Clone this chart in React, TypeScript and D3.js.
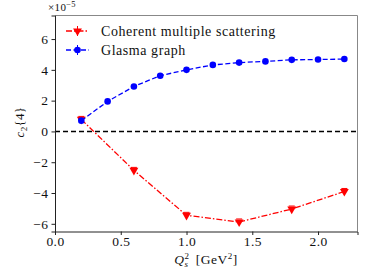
import { useEffect, useRef } from "react";
import * as d3 from "d3";

const W = 374;
const H = 280;
const MARGIN = { top: 15.5, right: 16.5, bottom: 48.5, left: 55 };

// Q_s^2 values [GeV^2]
const glasmaX = [0.2, 0.4, 0.6, 0.8, 1.0, 1.2, 1.4, 1.6, 1.8, 2.0, 2.2];
const glasmaY = [0.7, 1.95, 2.92, 3.62, 4.0, 4.32, 4.47, 4.55, 4.65, 4.67, 4.7];
const cmsX = [0.2, 0.6, 1.0, 1.4, 1.8, 2.2];
const cmsY = [0.78, -2.53, -5.45, -5.88, -5.04, -3.9];

const xTicks = [0.0, 0.5, 1.0, 1.5, 2.0];
const yTicks = [-6, -4, -2, 0, 2, 4, 6];

const FONT = "'Liberation Serif', 'Times New Roman', serif";
const RED = "#ff0000";
const BLUE = "#0000ff";

// place a run of [text, size, dy, italic, backstep] pieces one after another, centred on cx
function runText(
  parent: d3.Selection<any, unknown, null, undefined>,
  cx: number,
  base: number,
  pieces: Array<[string, number, number, boolean, number?]>,
  spacing = 0.3
) {
  const g = parent.append("g");
  let cur = 0;
  pieces.forEach(([t, size, dy, it, back]) => {
    if (back) cur -= back;
    const el = g
      .append("text")
      .attr("x", cur)
      .attr("y", dy)
      .attr("font-family", FONT)
      .attr("font-size", `${size}px`)
      .attr("font-style", it ? "italic" : "normal")
      .attr("letter-spacing", spacing)
      .attr("fill", "#111")
      .text(t);
    const node = el.node() as SVGTextElement;
    cur += node.getComputedTextLength();
  });
  g.attr("transform", `translate(${cx - cur / 2},${base})`);
  return g;
}

export default function App() {
  const svgRef = useRef<SVGSVGElement>(null);

  useEffect(() => {
    const svg = d3.select(svgRef.current);
    svg.selectAll("*").remove();

    const pw = W - MARGIN.left - MARGIN.right;
    const ph = H - MARGIN.top - MARGIN.bottom;

    const x = d3.scaleLinear().domain([0, 2.3]).range([0, pw]);
    const y = d3.scaleLinear().domain([-6.5, 7.53]).range([ph, 0]);

    const g = svg
      .append("g")
      .attr("transform", `translate(${MARGIN.left},${MARGIN.top})`);

    // zero reference line
    g.append("line")
      .attr("x1", 0)
      .attr("x2", pw)
      .attr("y1", y(0))
      .attr("y2", y(0))
      .attr("stroke", "#000")
      .attr("stroke-width", 1.5)
      .attr("stroke-dasharray", "5,3");

    const line = d3
      .line<[number, number]>()
      .x((d) => x(d[0]))
      .y((d) => y(d[1]));

    // Coherent multiple scattering (red, dash-dot, down triangles)
    const cms: [number, number][] = cmsX.map((v, i) => [v, cmsY[i]]);
    g.append("path")
      .attr("d", line(cms))
      .attr("fill", "none")
      .attr("stroke", RED)
      .attr("stroke-width", 1.3)
      .attr("stroke-dasharray", "6,2,1.5,2");
    const tri = d3.symbol().type(d3.symbolTriangle).size(34);
    cms.forEach((d) => {
      g.append("line")
        .attr("x1", x(d[0]) - 3)
        .attr("x2", x(d[0]) + 3)
        .attr("y1", y(d[1]) - 3)
        .attr("y2", y(d[1]) - 3)
        .attr("stroke", RED)
        .attr("stroke-width", 1);
      g.append("path")
        .attr("d", tri)
        .attr("transform", `translate(${x(d[0])},${y(d[1])}) rotate(180)`)
        .attr("fill", RED);
    });

    // Glasma graph (blue, dashed, circles)
    const gl: [number, number][] = glasmaX.map((v, i) => [v, glasmaY[i]]);
    g.append("path")
      .attr("d", line(gl))
      .attr("fill", "none")
      .attr("stroke", BLUE)
      .attr("stroke-width", 1.3)
      .attr("stroke-dasharray", "5,2.5");
    gl.forEach((d) => {
      g.append("circle")
        .attr("cx", x(d[0]))
        .attr("cy", y(d[1]))
        .attr("r", 3.3)
        .attr("fill", BLUE);
    });

    // spines
    g.append("line").attr("x1", 0).attr("x2", pw).attr("y1", 0).attr("y2", 0)
      .attr("stroke", "#888").attr("stroke-width", 1);
    g.append("line").attr("x1", pw).attr("x2", pw).attr("y1", 0).attr("y2", ph)
      .attr("stroke", "#888").attr("stroke-width", 1);

    const xAxis = g
      .append("g")
      .attr("transform", `translate(0,${ph})`)
      .call(d3.axisBottom(x).tickValues(xTicks).tickSize(3.5).tickPadding(1.5).tickFormat(d3.format(".1f")));
    const yAxis = g
      .append("g")
      .call(
        d3.axisLeft(y).tickValues(yTicks).tickSize(3.5).tickPadding(3)
          .tickFormat((v) => (v as number) < 0 ? `\u2212${Math.abs(v as number)}` : `${v}`)
      );
    [xAxis, yAxis].forEach((a) => {
      a.select(".domain").attr("stroke", "#222").attr("stroke-width", 1);
      a.selectAll(".tick line").attr("stroke", "#222");
      a.selectAll(".tick text")
        .attr("font-family", FONT)
        .attr("font-size", "13.5px")
        .attr("letter-spacing", 0.4)
        .attr("fill", "#111");
    });

    // multiplier label
    runText(svg, 62, 11, [
      ["\u00d710", 11, 0, false],
      ["\u22125", 8.5, -4.5, false],
    ]);

    // y label
    const yl = runText(svg, 0, 0, [
      ["c", 13, 0, true],
      ["2", 9, 3, false],
      ["{4}", 13, 0, false],
    ]);
    const ylT = yl.attr("transform");
    yl.attr("transform", `translate(24,122) rotate(-90) ${ylT}`);

    // x label
    runText(svg, 206, 263.5, [
      ["Q", 13.5, 0, true],
      ["2", 9, -5, false],
      ["s", 9, 3.5, true, 5],
      ["\u2002[GeV", 13.5, 0, false],
      ["2", 9, -5, false],
      ["]", 13.5, 0, false],
    ], 0.5);

    // legend
    const legend = [
      { label: "Coherent multiple scattering", color: RED, dash: "6,2,1.5,2", kind: "tri" },
      { label: "Glasma graph", color: BLUE, dash: "5,2.5", kind: "dot" },
    ];
    legend.forEach((l, i) => {
      const ly = 31 + i * 19;
      svg.append("line")
        .attr("x1", 66).attr("x2", 89).attr("y1", ly).attr("y2", ly)
        .attr("stroke", l.color).attr("stroke-width", 1.3).attr("stroke-dasharray", l.dash);
      svg.append("line")
        .attr("x1", 77.5).attr("x2", 77.5).attr("y1", ly - 5).attr("y2", ly + 5)
        .attr("stroke", l.color).attr("stroke-width", 1);
      if (l.kind === "tri") {
        svg.append("path")
          .attr("d", tri)
          .attr("transform", `translate(77.5,${ly}) rotate(180)`)
          .attr("fill", l.color);
      } else {
        svg.append("circle").attr("cx", 77.5).attr("cy", ly).attr("r", 3.3).attr("fill", l.color);
      }
      svg.append("text")
        .attr("x", 101)
        .attr("y", ly + 5)
        .attr("font-family", FONT)
        .attr("font-size", "14px")
        .attr("letter-spacing", 0.55)
        .attr("fill", "#111")
        .text(l.label);
    });
  }, []);

  return (
    <svg
      ref={svgRef}
      width={W}
      height={H}
      style={{ position: "absolute", left: 0, top: 0, background: "#fff" }}
    />
  );
}
